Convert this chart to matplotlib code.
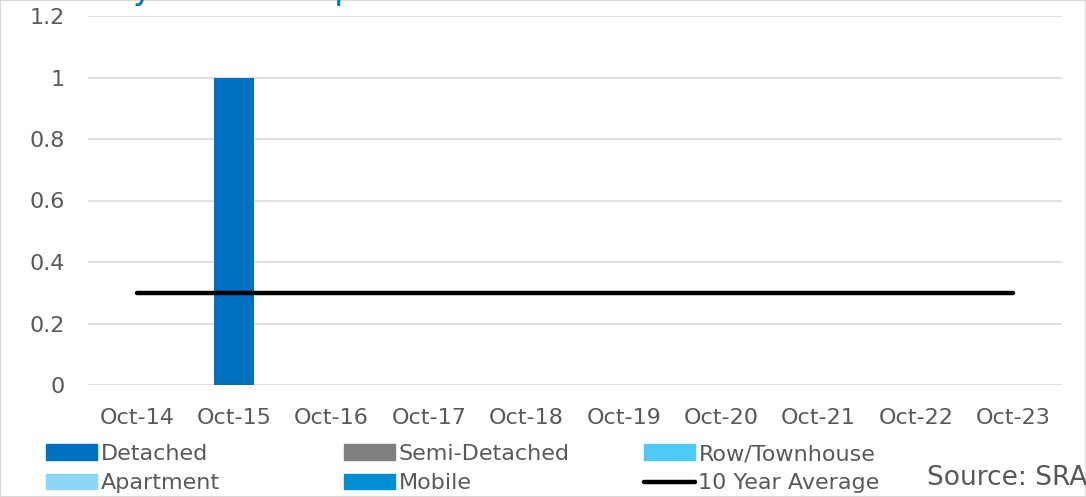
import matplotlib.pyplot as plt
import numpy as np
from matplotlib.patches import Patch, Rectangle
from matplotlib.lines import Line2D

# Data
categories = ['Oct-14', 'Oct-15', 'Oct-16', 'Oct-17', 'Oct-18',
              'Oct-19', 'Oct-20', 'Oct-21', 'Oct-22', 'Oct-23']
detached = [0, 1, 0, 0, 0, 0, 0, 0, 0, 0]
semi_detached = [0, 0, 0, 0, 0, 0, 0, 0, 0, 0]
row_townhouse = [0, 0, 0, 0, 0, 0, 0, 0, 0, 0]
apartment = [0, 0, 0, 0, 0, 0, 0, 0, 0, 0]
mobile = [0, 0, 0, 0, 0, 0, 0, 0, 0, 0]
ten_year_avg = [0.3] * 10

series = [('Detached', detached, '#0070C0'),
          ('Semi-Detached', semi_detached, '#808080'),
          ('Row/Townhouse', row_townhouse, '#4FC9F5'),
          ('Apartment', apartment, '#8DD8F8'),
          ('Mobile', mobile, '#008FD3')]

text_color = '#595959'
plt.rcParams['font.family'] = 'DejaVu Sans'

fig = plt.figure(figsize=(10.86, 4.97), dpi=100)
ax = fig.add_axes([88 / 1086, 1 - 385 / 497, (1062 - 88) / 1086, (385 - 16) / 497])

x = np.arange(len(categories))
bottom = np.zeros(len(categories))
for name, vals, col in series:
    ax.bar(x, vals, 0.41, bottom=bottom, color=col, zorder=2)
    bottom += np.array(vals)

ax.plot(x, ten_year_avg, color='black', lw=3.2, solid_capstyle='round', zorder=3)

ax.set_xlim(-0.5, len(categories) - 0.5)
ax.set_ylim(0, 1.2)
yticks = [0, 0.2, 0.4, 0.6, 0.8, 1.0, 1.2]
ax.set_yticks(yticks)
ax.set_yticklabels(['0', '0.2', '0.4', '0.6', '0.8', '1', '1.2'])
ax.set_xticks(x)
ax.set_xticklabels(categories)
ax.tick_params(axis='both', length=0, labelsize=16, labelcolor=text_color)
ax.tick_params(axis='x', pad=16.5)
ax.tick_params(axis='y', pad=17)
ax.grid(axis='y', color='#D9D9D9', lw=1.2, zorder=0)
for s in ax.spines.values():
    s.set_visible(False)

# Title, cut off at the top edge as in the original
fig.text(22 / 1086, 1 + 1 / 497, 'Monthly Sales Comparison', fontsize=23.5,
         color='#0070C0', va='baseline', ha='left')

# Legend built as three columns
handles = [Patch(color=c) for _, _, c in series]
handles.append(Line2D([0], [0], color='black', lw=3.2, solid_capstyle='round'))
labels = [s[0] for s in series] + ['10 Year Average']
columns = [(0, 3), (1, 4), (2, 5)]
col_x = [46, 344, 644]
for (i, j), cx in zip(columns, col_x):
    leg = fig.legend([handles[i], handles[j]], [labels[i], labels[j]],
                     loc='upper left', bbox_to_anchor=(cx / 1086, 1 - 444 / 497),
                     frameon=False, fontsize=16, labelcolor=text_color,
                     handlelength=2.3, handleheight=0.7, handletextpad=0.15,
                     labelspacing=0.42, borderpad=0, borderaxespad=0)

fig.text(927 / 1086, 1 - 478 / 497, 'Source: SRA', fontsize=19,
         color=text_color, va='center', ha='left')

fig.patches.append(Rectangle((0, 0), 1, 1, transform=fig.transFigure,
                             fill=False, edgecolor='#D9D9D9', lw=1.5))

fig.savefig('out.png', dpi=100)
